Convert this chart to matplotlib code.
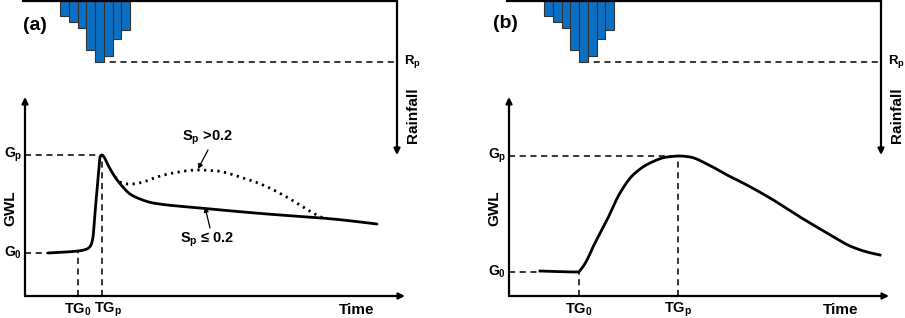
import matplotlib
matplotlib.use("Agg")
import matplotlib.pyplot as plt
import numpy as np

plt.rcParams['font.family'] = ['Liberation Sans', 'DejaVu Sans']
plt.rcParams['font.weight'] = 'bold'
plt.rcParams['mathtext.fontset'] = 'custom'
plt.rcParams['mathtext.rm'] = 'Liberation Sans:bold'
plt.rcParams['mathtext.it'] = 'Liberation Sans:bold'
plt.rcParams['mathtext.bf'] = 'Liberation Sans:bold'

# ---------------- data ----------------
rain_step = [1, 2, 3, 4, 5, 6, 7, 8]
rain_depth = [15, 21, 27, 49, 61, 55, 38, 29]
rain_peak = 61

# panel (a) GWL curves (time, level)
a_solid_t = [23, 53, 62, 66, 68, 70, 72, 74, 75, 77, 79, 83, 90, 97, 105, 115, 128, 175, 242, 308, 352]
a_solid_g = [43, 45, 47, 51, 59, 83, 106, 129, 139, 141, 139, 131, 119, 110, 102, 97, 93, 88, 82, 77, 72]
a_dot_t = [90, 95, 102, 108, 118, 132, 148, 172, 192, 215, 238, 258, 275, 288, 298]
a_dot_g = [119, 114, 112, 112, 114, 119, 123, 126, 125, 119, 111, 101, 91, 83, 78]
a_G0, a_Gp, a_TG0, a_TGp, a_start = 43, 141, 53, 77, 23

# panel (b) GWL curve
b_t = [31, 69, 73, 78, 84, 98, 111, 124, 141, 158, 171, 181, 198, 218, 234, 261, 291, 318, 341, 358, 371]
b_g = [25, 24, 28, 36, 49, 76, 103, 121, 133, 139, 140, 139, 132, 121, 113, 98, 79, 63, 50, 44, 41]
b_G0, b_Gp, b_TG0, b_TGp, b_start = 24, 140, 70, 169, 31

W, H = 905, 318
fig = plt.figure(figsize=(W / 100, H / 100), dpi=100)

BLUE = '#0A6FC2'
LW = 1.6


def px_axes(x0, y_top, w, h):
    return fig.add_axes([x0 / W, (H - y_top - h) / H, w / W, h / H])


def pchip(x, y, n=800):
    x = np.asarray(x, float)
    y = np.asarray(y, float)
    h = np.diff(x)
    d = np.diff(y) / h
    m = np.zeros_like(y)
    for k in range(1, len(x) - 1):
        if d[k - 1] * d[k] <= 0:
            m[k] = 0.0
        else:
            w1 = 2 * h[k] + h[k - 1]
            w2 = h[k] + 2 * h[k - 1]
            m[k] = (w1 + w2) / (w1 / d[k - 1] + w2 / d[k])
    m[0] = d[0]
    m[-1] = d[-1]
    xs = np.linspace(x[0], x[-1], n)
    idx = np.clip(np.searchsorted(x, xs) - 1, 0, len(x) - 2)
    t = (xs - x[idx]) / h[idx]
    h00 = 2 * t ** 3 - 3 * t ** 2 + 1
    h10 = t ** 3 - 2 * t ** 2 + t
    h01 = -2 * t ** 3 + 3 * t ** 2
    h11 = t ** 3 - t ** 2
    ys = h00 * y[idx] + h10 * h[idx] * m[idx] + h01 * y[idx + 1] + h11 * h[idx] * m[idx + 1]
    return xs, ys


def arrow(ax, xy_from, xy_to, lw=LW, ms=9):
    ax.annotate('', xy=xy_to, xytext=xy_from, annotation_clip=False,
                arrowprops=dict(arrowstyle='-|>', lw=lw, color='k', mutation_scale=ms,
                                shrinkA=0, shrinkB=0))


def rain_panel(x0):
    ax = px_axes(x0, 1, 374, 154)
    ax.set_xlim(-3.79, 39.2)
    ax.set_ylim(154, 0)
    ax.axis('off')
    ax.bar(rain_step, rain_depth, width=1.0, bottom=0, color=BLUE, edgecolor='#333333',
           linewidth=0.8, align='center', zorder=2)
    x1 = ax.get_xlim()[1]
    ax.plot([ax.get_xlim()[0], x1], [0, 0], color='k', lw=LW, clip_on=False, zorder=3)
    arrow(ax, (x1, 0), (x1, 154))
    peak_x = rain_step[int(np.argmax(rain_depth))]
    ax.plot([peak_x, x1], [rain_peak, rain_peak], color='k', lw=1.1, ls=(0, (4, 3)), zorder=1)
    ax.text(x1 + 0.75, rain_peak - 1, r'$R_p$', fontsize=9.5, ha='left', va='center')
    ax.text(x1 + 1.8, 114, 'Rainfall', fontsize=11, rotation=90, ha='center', va='center')
    return ax


def gwl_panel(x0):
    ax = px_axes(x0, 97, 380, 199)
    ax.set_xlim(0, 380)
    ax.set_ylim(0, 199)
    ax.axis('off')
    arrow(ax, (0, 0), (380, 0))
    arrow(ax, (0, 0), (0, 199))
    ax.text(-15, 88, 'GWL', fontsize=11, rotation=90, ha='center', va='center')
    ax.text(332, -14, 'Time', fontsize=11, ha='center', va='center')
    return ax


dash = (0, (4, 3))

# ---------- panel (a) ----------
rain_panel(23)
ax = gwl_panel(25)
ts, gs = pchip(a_solid_t, a_solid_g)
ax.plot(ts, gs, color='k', lw=2.0, solid_capstyle='round', zorder=3)
td, gd = pchip(a_dot_t, a_dot_g)
ax.plot(td, gd, color='k', lw=2.0, ls=(0, (0.8, 1.6)), zorder=3)
ax.plot([0, a_TGp], [a_Gp, a_Gp], color='k', lw=1.1, ls=dash)
ax.plot([0, a_start], [a_G0, a_G0], color='k', lw=1.1, ls=dash)
ax.plot([a_TG0, a_TG0], [0, a_G0 + 1], color='k', lw=1.1, ls=dash)
ax.plot([a_TGp, a_TGp], [0, a_Gp], color='k', lw=1.1, ls=dash)
ax.text(-12, a_Gp, r'$G_p$', fontsize=10, ha='center', va='center')
ax.text(-12, a_G0, r'$G_0$', fontsize=10, ha='center', va='center')
ax.text(a_TG0, -14, r'$TG_0$', fontsize=10.5, ha='center', va='center')
ax.text(a_TGp + 6, -14, r'$TG_p$', fontsize=10.5, ha='center', va='center')
ax.text(182, 158, r'$S_p$ >0.2', fontsize=10.5, ha='center', va='center')
ax.text(182, 56, r'$S_p$ ≤ 0.2', fontsize=10.5, ha='center', va='center')
ax.annotate('', xy=(173, 127), xytext=(183, 146),
            arrowprops=dict(arrowstyle='-|>', lw=0.9, color='k', mutation_scale=7, shrinkA=0, shrinkB=0))
ax.annotate('', xy=(180, 89), xytext=(185, 68),
            arrowprops=dict(arrowstyle='-|>', lw=0.9, color='k', mutation_scale=7, shrinkA=0, shrinkB=0))
fig.text(23 / W, 1 - 25 / H, '(a)', fontsize=14, ha='left', va='center')

# ---------- panel (b) ----------
rain_panel(507)
ax = gwl_panel(509)
tb, gb = pchip(b_t, b_g)
ax.plot(tb, gb, color='k', lw=2.0, zorder=3)
ax.plot([0, b_TGp], [b_Gp, b_Gp], color='k', lw=1.1, ls=dash)
ax.plot([0, b_start], [b_G0, b_G0], color='k', lw=1.1, ls=dash)
ax.plot([b_TG0, b_TG0], [0, b_G0], color='k', lw=1.1, ls=dash)
ax.plot([b_TGp, b_TGp], [0, b_Gp], color='k', lw=1.1, ls=dash)
ax.text(-12, b_Gp, r'$G_p$', fontsize=10, ha='center', va='center')
ax.text(-12, b_G0, r'$G_0$', fontsize=10, ha='center', va='center')
ax.text(b_TG0, -14, r'$TG_0$', fontsize=10.5, ha='center', va='center')
ax.text(b_TGp, -14, r'$TG_p$', fontsize=10.5, ha='center', va='center')
fig.text(493 / W, 1 - 23 / H, '(b)', fontsize=14, ha='left', va='center')

fig.savefig('out.png', dpi=100)
